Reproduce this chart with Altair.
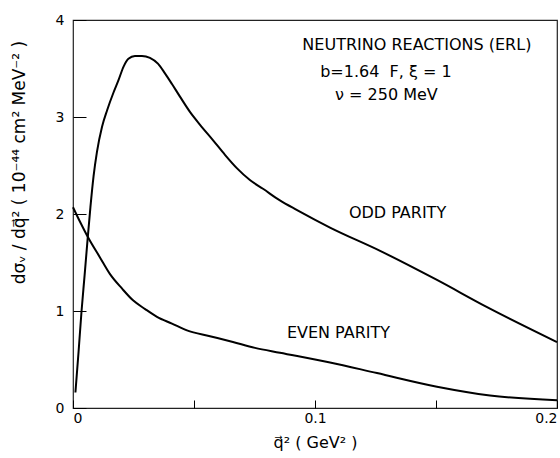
import altair as alt
import pandas as pd

# ODD PARITY curve (q^2 in GeV^2, cross-section in 1e-44 cm^2 MeV^-2)
odd_q2 = [0.0010, 0.0023, 0.0035, 0.0048, 0.0060, 0.0072, 0.0085, 0.0099, 0.0120,
          0.0141, 0.0167, 0.0188, 0.0209, 0.0229, 0.0256, 0.0285, 0.0318, 0.0351,
          0.0380, 0.0409, 0.0442, 0.0484, 0.0525, 0.0579, 0.0628, 0.0678, 0.0731,
          0.0785, 0.0855, 0.0926, 0.1062, 0.1269, 0.1504, 0.1711, 0.2000]
odd_val = [0.16, 0.58, 0.99, 1.37, 1.73, 2.07, 2.39, 2.64, 2.90,
           3.07, 3.25, 3.38, 3.52, 3.60, 3.63, 3.63, 3.61, 3.55,
           3.45, 3.34, 3.21, 3.05, 2.92, 2.76, 2.61, 2.47, 2.35,
           2.26, 2.14, 2.04, 1.86, 1.62, 1.32, 1.04, 0.68]

# EVEN PARITY curve
even_q2 = [0.0000, 0.0029, 0.0062, 0.0112, 0.0153, 0.0203, 0.0248, 0.0298, 0.0347,
           0.0409, 0.0471, 0.0566, 0.0661, 0.0752, 0.0855, 0.1062, 0.1256, 0.1504,
           0.1723, 0.2000]
even_val = [2.07, 1.92, 1.76, 1.55, 1.38, 1.23, 1.11, 1.02, 0.94,
            0.87, 0.80, 0.74, 0.68, 0.62, 0.57, 0.47, 0.36, 0.22,
            0.13, 0.08]

# Annotations
ann_text = ["NEUTRINO REACTIONS (ERL)", "b=1.64\u00a0\u00a0F, ξ = 1", "ν = 250 MeV",
            "ODD PARITY", "EVEN PARITY"]
ann_q2 = [0.1421, 0.1293, 0.1295, 0.1341, 0.1097]
ann_val = [3.74, 3.46, 3.23, 2.01, 0.77]

x_ticks = [0, 0.05, 0.1, 0.15, 0.2]
y_ticks = [0, 1, 2, 3, 4]

df = pd.concat([
    pd.DataFrame({"q2": odd_q2, "v": odd_val, "s": "odd"}),
    pd.DataFrame({"q2": even_q2, "v": even_val, "s": "even"}),
])
ann = pd.DataFrame({"q2": ann_q2, "v": ann_val, "t": ann_text})

FONT = "DejaVu Sans"

xscale = alt.Scale(domain=[0, 0.2], nice=False, zero=False)
yscale = alt.Scale(domain=[0, 4], nice=False)

xaxis = alt.Axis(
    values=x_ticks,
    labelExpr="datum.value == 0 ? '0' : (abs(datum.value - 0.1) < 1e-6 ? '0.1' : (abs(datum.value - 0.2) < 1e-6 ? '0.2' : ''))",
    offset=-8, tickSize=8, domain=False, grid=False,
    labelPadding=3, labelFlush=True, labelFontSize=14, labelFont=FONT,
    labelColor="black", tickColor="black",
    title="q⃗²  ( GeV² )", titleFont=FONT, titleFontSize=16,
    titleFontWeight="normal", titleColor="black", titlePadding=9,
)
yaxis = alt.Axis(
    values=y_ticks, format="d",
    offset=-13, tickSize=13, domain=False, grid=False,
    labelPadding=9, labelFontSize=14, labelFont=FONT,
    labelColor="black", tickColor="black",
    title="dσᵥ / dq⃗²   ( 10⁻⁴⁴ cm²  MeV⁻² )", titleFont=FONT, titleFontSize=17,
    titleFontWeight="normal", titleColor="black",
    titleX=-58, titleY=142,
)

lines = alt.Chart(df).mark_line(color="black", strokeWidth=2, interpolate="monotone").encode(
    x=alt.X("q2:Q", scale=xscale, axis=xaxis),
    y=alt.Y("v:Q", scale=yscale, axis=yaxis),
    detail="s:N",
)

texts = alt.Chart(ann).mark_text(align="center", baseline="middle", fontSize=16,
                                 font=FONT, color="black").encode(
    x=alt.X("q2:Q", scale=xscale),
    y=alt.Y("v:Q", scale=yscale),
    text="t:N",
)

chart = alt.layer(lines, texts).properties(
    width=484, height=388,
    padding={"left": 73, "top": 20, "right": 3, "bottom": 50},
    autosize="none",
    background="white",
).configure_view(stroke="#222", strokeWidth=1.2)

chart.save("out.html", embed_options={"renderer": "svg", "actions": False})
